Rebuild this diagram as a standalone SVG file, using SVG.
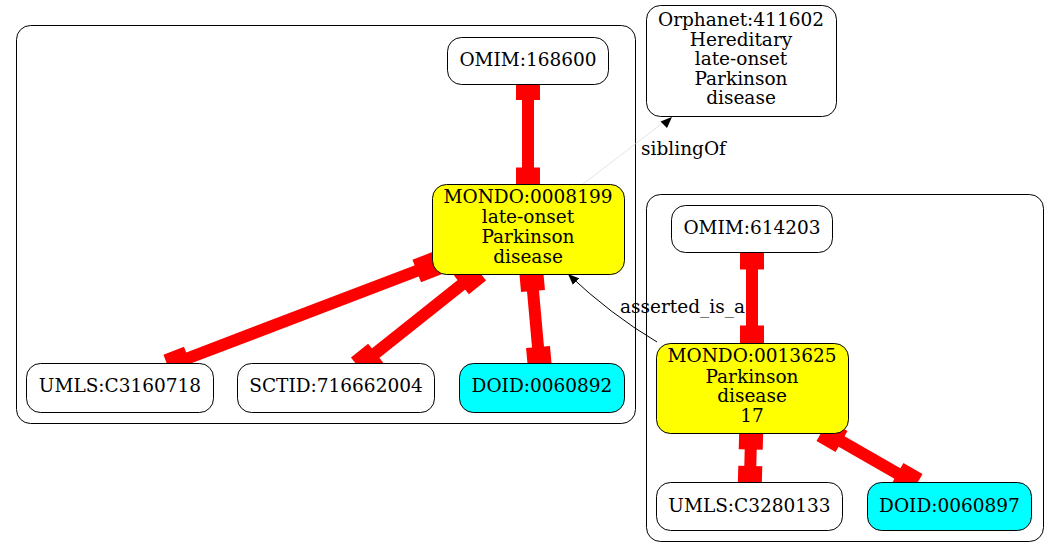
<svg xmlns="http://www.w3.org/2000/svg" width="1059" height="557" viewBox="0 0 1059 557">
<style>
.cl{fill:none;stroke:#000;stroke-width:1}
.n{fill:#fff;stroke:#000;stroke-width:1}
.y{fill:#ffff00}
.c{fill:#00ffff}
text{font-family:"DejaVu Serif","Liberation Serif",serif;font-size:18.5px;fill:#000;text-anchor:middle}
.el{stroke:#ff0000;stroke-width:12;fill:none}
.bx{fill:#ff0000;stroke:none}
.thin{stroke:#d8d8d8;stroke-width:0.7;fill:none}
.blk{stroke:#000;stroke-width:1;fill:none}
</style>
<defs>
<marker id="ah" viewBox="0 0 11 9" refX="11" refY="4.5" markerWidth="11" markerHeight="9" markerUnits="userSpaceOnUse" orient="auto">
<path d="M0,0 L11,4.5 L0,9 Z" fill="#000"/>
</marker>
</defs>
<rect width="1059" height="557" fill="#fff"/>
<g id="clusters">
<rect class="cl" x="16.5" y="25.5" width="619" height="398" rx="14"/>
<rect class="cl" x="646.5" y="194.5" width="397" height="347" rx="14"/>
</g>
<g id="connectors">
<g id="e1"><line class="el" x1="528" y1="89" x2="528" y2="178.5"/><rect class="bx" x="-11" y="-12" width="22" height="24" transform="translate(528,89) rotate(90)"/><rect class="bx" x="-11" y="-12" width="22" height="24" transform="translate(528,178.5) rotate(90)"/></g>
<g id="e2"><line class="el" x1="427" y1="267" x2="178" y2="362"/><rect class="bx" x="-11" y="-12" width="22" height="24" transform="translate(427,267) rotate(-20.9)"/><rect class="bx" x="-11" y="-12" width="22" height="24" transform="translate(178,362) rotate(-20.9)"/></g>
<g id="e3"><line class="el" x1="470" y1="278" x2="367" y2="360"/><rect class="bx" x="-11" y="-12" width="22" height="24" transform="translate(470,278) rotate(-38.5)"/><rect class="bx" x="-11" y="-12" width="22" height="24" transform="translate(367,360) rotate(-38.5)"/></g>
<g id="e4"><line class="el" x1="532" y1="280" x2="539" y2="358"/><rect class="bx" x="-11" y="-12" width="22" height="24" transform="translate(532,280) rotate(84.9)"/><rect class="bx" x="-11" y="-12" width="22" height="24" transform="translate(539,358) rotate(84.9)"/></g>
<g id="e5"><line class="el" x1="752" y1="258.5" x2="752" y2="336.5"/><rect class="bx" x="-11" y="-12" width="22" height="24" transform="translate(752,258.5) rotate(90)"/><rect class="bx" x="-11" y="-12" width="22" height="24" transform="translate(752,336.5) rotate(90)"/></g>
<g id="e6"><line class="el" x1="751" y1="438.5" x2="750" y2="477"/><rect class="bx" x="-11" y="-12" width="22" height="24" transform="translate(751,438.5) rotate(91.5)"/><rect class="bx" x="-11" y="-12" width="22" height="24" transform="translate(750,477) rotate(91.5)"/></g>
<g id="e7"><line class="el" x1="832" y1="436" x2="907" y2="479"/><rect class="bx" x="-11" y="-12" width="22" height="24" transform="translate(832,436) rotate(29.8)"/><rect class="bx" x="-11" y="-12" width="22" height="24" transform="translate(907,479) rotate(29.8)"/></g>
<g id="e8"><line class="thin" x1="583" y1="184" x2="664" y2="122"/><path d="M672,117 L660.5,121.5 L667,128 Z" fill="#000"/><text x="683.5" y="155">siblingOf</text></g>
<g id="e9"><path class="blk" d="M657,342 Q610,314 568,274" marker-end="url(#ah)"/><text x="682.5" y="313">asserted_is_a</text></g>
</g>
<g id="n_omim168600"><rect class="n" x="447.5" y="37.5" width="161" height="47" rx="14"/><text x="528" y="66">OMIM:168600</text></g>
<g id="n_mondo0008199"><rect class="n y" x="432.5" y="184.5" width="192" height="90" rx="14"/><text x="528" y="203">MONDO:0008199</text><text x="528" y="223">late-onset</text><text x="528" y="243">Parkinson</text><text x="528" y="263">disease</text></g>
<g id="n_umls3160718"><rect class="n" x="26.5" y="363.5" width="187" height="49" rx="14"/><text x="120" y="392">UMLS:C3160718</text></g>
<g id="n_sctid"><rect class="n" x="237.5" y="363.5" width="197" height="49" rx="14"/><text x="336" y="392">SCTID:716662004</text></g>
<g id="n_doid0060892"><rect class="n c" x="459.5" y="363.5" width="165" height="49" rx="14"/><text x="542" y="392">DOID:0060892</text></g>
<g id="n_orphanet"><rect class="n" x="646.5" y="5.5" width="190" height="111" rx="14"/><text x="741" y="26">Orphanet:411602</text><text x="741" y="46">Hereditary</text><text x="741" y="65">late-onset</text><text x="741" y="85">Parkinson</text><text x="741" y="104">disease</text></g>
<g id="n_omim614203"><rect class="n" x="671.5" y="205.5" width="161" height="47" rx="14"/><text x="752" y="234">OMIM:614203</text></g>
<g id="n_mondo0013625"><rect class="n y" x="656.5" y="343.5" width="192" height="90" rx="14"/><text x="752" y="362">MONDO:0013625</text><text x="752" y="383">Parkinson</text><text x="752" y="402">disease</text><text x="752" y="422">17</text></g>
<g id="n_umls3280133"><rect class="n" x="656.5" y="482.5" width="186" height="48" rx="14"/><text x="749.5" y="512">UMLS:C3280133</text></g>
<g id="n_doid0060897"><rect class="n c" x="867.5" y="482.5" width="164" height="48" rx="14"/><text x="949.5" y="512">DOID:0060897</text></g>
</svg>
